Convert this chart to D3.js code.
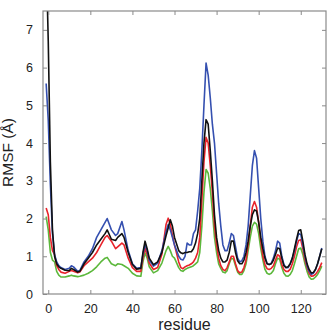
<!DOCTYPE html>
<html>
<head>
<meta charset="utf-8">
<script src="https://cdn.jsdelivr.net/npm/d3@7"></script>
<style>
  body { margin: 0; background: #fff; }
  svg { display: block; font-family: "Liberation Sans", Arial, sans-serif; }
</style>
</head>
<body>
<svg id="chart" width="329" height="332"></svg>
<script>
// residue numbers (dense from 72 on)
const residue = [-1, 0, 1, 2, 3, 4, 5, 6,
  8, 10, 11, 12, 14, 15, 17, 19, 21, 23, 25, 27, 28, 30, 32, 33, 35, 36, 38, 40, 42, 44,
  45, 46, 47, 48, 50, 52, 54, 56, 57, 58, 59, 60, 62, 63, 64, 65, 66, 67, 68, 69, 70, 71]
  .concat(d3.range(72, 131));

const blue = [5.58, 4.6, 2.9, 1.6, 1.05, 0.85, 0.75, 0.7,
  0.65, 0.68, 0.75, 0.72, 0.6, 0.62, 0.85, 1.0, 1.2, 1.5, 1.7, 1.9, 2.0, 1.7, 1.55, 1.6, 1.92, 1.7, 1.15, 0.8, 0.68, 0.7,
  1.05, 1.31, 1.15, 0.9, 0.74, 0.82, 1.15, 1.65, 1.84, 1.7, 1.5, 1.3, 1.0, 0.92, 0.9, 1.0, 1.35, 1.3, 1.3, 1.6, 1.7, 2.2,
  2.8, 3.8, 5.0, 6.12, 5.8, 5.2, 4.5, 4.0, 3.2, 2.4, 1.8, 1.3, 1.15, 1.15, 1.35, 1.6, 1.55, 1.25, 0.95, 0.85, 0.88, 1.0,
  1.3, 1.8, 2.6, 3.4, 3.8, 3.6, 2.8, 2.0, 1.4, 1.0, 0.8, 0.78, 0.82, 0.95, 1.15, 1.4, 1.35, 1.0, 0.78, 0.7, 0.7, 0.8,
  0.95, 1.15, 1.4, 1.6, 1.58, 1.3, 1.0, 0.75, 0.6, 0.52, 0.55, 0.65, 0.8, 1.0, 1.22];

const black = [9.0, 6.7, 3.5, 1.7, 1.0, 0.8, 0.72, 0.68,
  0.63, 0.62, 0.68, 0.65, 0.58, 0.6, 0.8, 0.95, 1.1, 1.3, 1.45, 1.6, 1.7, 1.45, 1.42, 1.5, 1.6, 1.5, 1.1, 0.78, 0.66, 0.68,
  1.1, 1.4, 1.2, 0.95, 0.78, 0.85, 1.1, 1.55, 1.75, 1.97, 1.8, 1.5, 1.15, 1.09, 1.07, 1.1, 1.1, 1.12, 1.12, 1.2, 1.35, 1.6,
  2.0, 3.0, 4.0, 4.62, 4.5, 3.8, 3.0, 2.1, 1.5, 1.15, 0.95, 0.85, 0.85, 0.9, 1.1, 1.4, 1.4, 1.1, 0.88, 0.8, 0.8, 0.9,
  1.1, 1.4, 1.8, 2.1, 2.23, 2.2, 1.9, 1.5, 1.2, 0.95, 0.8, 0.78, 0.8, 0.9, 1.05, 1.22, 1.2, 0.95, 0.75, 0.7, 0.72, 0.8,
  0.95, 1.2, 1.45, 1.68, 1.7, 1.4, 1.05, 0.8, 0.65, 0.56, 0.57, 0.65, 0.8, 1.0, 1.2];

const red = [2.28, 2.1, 1.5, 1.15, 1.05, 0.75, 0.65, 0.58,
  0.55, 0.6, 0.62, 0.6, 0.56, 0.58, 0.75, 0.85, 0.95, 1.1, 1.3, 1.5, 1.55, 1.4, 1.2, 1.25, 1.35, 1.3, 0.95, 0.7, 0.6, 0.6,
  0.95, 1.22, 1.05, 0.82, 0.65, 0.7, 1.05, 1.85, 2.01, 1.85, 1.55, 1.3, 0.85, 0.7, 0.67, 0.72, 0.75, 0.77, 0.8, 0.85, 0.95, 1.1,
  1.5, 2.5, 3.5, 4.15, 4.0, 3.4, 2.7, 1.8, 1.3, 0.95, 0.75, 0.65, 0.62, 0.7, 0.85, 1.0, 1.0, 0.8, 0.62, 0.56, 0.58, 0.7,
  0.9, 1.3, 1.8, 2.3, 2.45, 2.3, 1.9, 1.4, 1.0, 0.78, 0.67, 0.65, 0.68, 0.75, 0.9, 1.04, 1.0, 0.78, 0.65, 0.6, 0.6, 0.66,
  0.8, 1.0, 1.25, 1.42, 1.44, 1.2, 0.9, 0.7, 0.55, 0.47, 0.48, 0.52, 0.6, 0.7, 0.83];

const green = [2.05, 1.7, 1.1, 0.9, 0.85, 0.6, 0.5, 0.45,
  0.45, 0.48, 0.5, 0.48, 0.46, 0.47, 0.5, 0.55, 0.62, 0.72, 0.85, 0.95, 0.97, 0.8, 0.75, 0.8, 0.78, 0.75, 0.68, 0.55, 0.48, 0.47,
  0.85, 1.09, 0.95, 0.72, 0.56, 0.62, 0.82, 1.15, 1.26, 1.15, 1.0, 0.95, 0.7, 0.62, 0.6, 0.65, 0.68, 0.7, 0.72, 0.75, 0.8, 0.85,
  1.1, 1.8, 2.7, 3.3, 3.2, 2.8, 2.2, 1.5, 1.1, 0.8, 0.68, 0.58, 0.56, 0.62, 0.8, 0.95, 0.93, 0.75, 0.58, 0.52, 0.52, 0.62,
  0.8, 1.15, 1.5, 1.8, 1.9, 1.85, 1.6, 1.2, 0.9, 0.65, 0.55, 0.52, 0.55, 0.62, 0.8, 0.95, 0.92, 0.7, 0.55, 0.48, 0.47, 0.52,
  0.62, 0.8, 1.0, 1.2, 1.22, 1.05, 0.8, 0.6, 0.45, 0.39, 0.4, 0.45, 0.52, 0.62, 0.74];

const xTicks = [0, 20, 40, 60, 80, 100, 120];
const yTicks = [0, 1, 2, 3, 4, 5, 6, 7];

// drawing order: last one ends up on top
const series = [
  { name: "green", values: green, color: "#5cb83c" },
  { name: "red", values: red, color: "#e8232b" },
  { name: "blue", values: blue, color: "#3550b0" },
  { name: "black", values: black, color: "#111111" }
];

const svg = d3.select("#chart");
const margin = { top: 11, right: 3, bottom: 38, left: 43 };
const width = +svg.attr("width") - margin.left - margin.right;
const height = +svg.attr("height") - margin.top - margin.bottom;

const g = svg.append("g")
  .attr("transform", `translate(${margin.left},${margin.top})`);

const x = d3.scaleLinear().domain([-2.5, 132]).range([0, width]);
const y = d3.scaleLinear().domain([0, 7.5]).range([height, 0]);

g.append("clipPath").attr("id", "plot-clip")
  .append("rect").attr("width", width).attr("height", height);

const line = d3.line()
  .x((d, i) => x(residue[i]))
  .y(d => y(d));

g.append("g").attr("clip-path", "url(#plot-clip)")
  .selectAll("path")
  .data(series)
  .enter()
  .append("path")
  .attr("fill", "none")
  .attr("stroke", d => d.color)
  .attr("stroke-width", 1.6)
  .attr("stroke-linejoin", "round")
  .attr("d", d => line(d.values));

// box with inward ticks, matlab style
const axisColor = "#8a8a8a";
function styleAxis(sel) {
  sel.select(".domain").remove();
  sel.selectAll(".tick line").attr("stroke", axisColor);
  sel.selectAll(".tick text").attr("fill", "#222").style("font-size", "12.5px");
}

g.append("g")
  .attr("transform", `translate(0,${height})`)
  .call(d3.axisBottom(x).tickValues(xTicks).tickSizeInner(-4).tickPadding(10))
  .call(styleAxis);

g.append("g")
  .call(d3.axisTop(x).tickValues(xTicks).tickSizeInner(-4).tickFormat(""))
  .call(styleAxis);

g.append("g")
  .call(d3.axisLeft(y).tickValues(yTicks).tickSizeInner(-4).tickPadding(10))
  .call(styleAxis);

g.append("g")
  .attr("transform", `translate(${width},0)`)
  .call(d3.axisRight(y).tickValues(yTicks).tickSizeInner(-4).tickFormat(""))
  .call(styleAxis);

g.append("rect")
  .attr("width", width)
  .attr("height", height)
  .attr("fill", "none")
  .attr("stroke", axisColor)
  .attr("stroke-width", 1.2);

g.append("text")
  .attr("x", width / 2)
  .attr("y", height + 36)
  .attr("text-anchor", "middle")
  .attr("fill", "#222")
  .style("font-size", "16px")
  .text("residue");

g.append("text")
  .attr("transform", "rotate(-90)")
  .attr("x", -height / 2)
  .attr("y", -30)
  .attr("text-anchor", "middle")
  .attr("fill", "#222")
  .style("font-size", "15.5px")
  .text("RMSF (Å)");
</script>
</body>
</html>
